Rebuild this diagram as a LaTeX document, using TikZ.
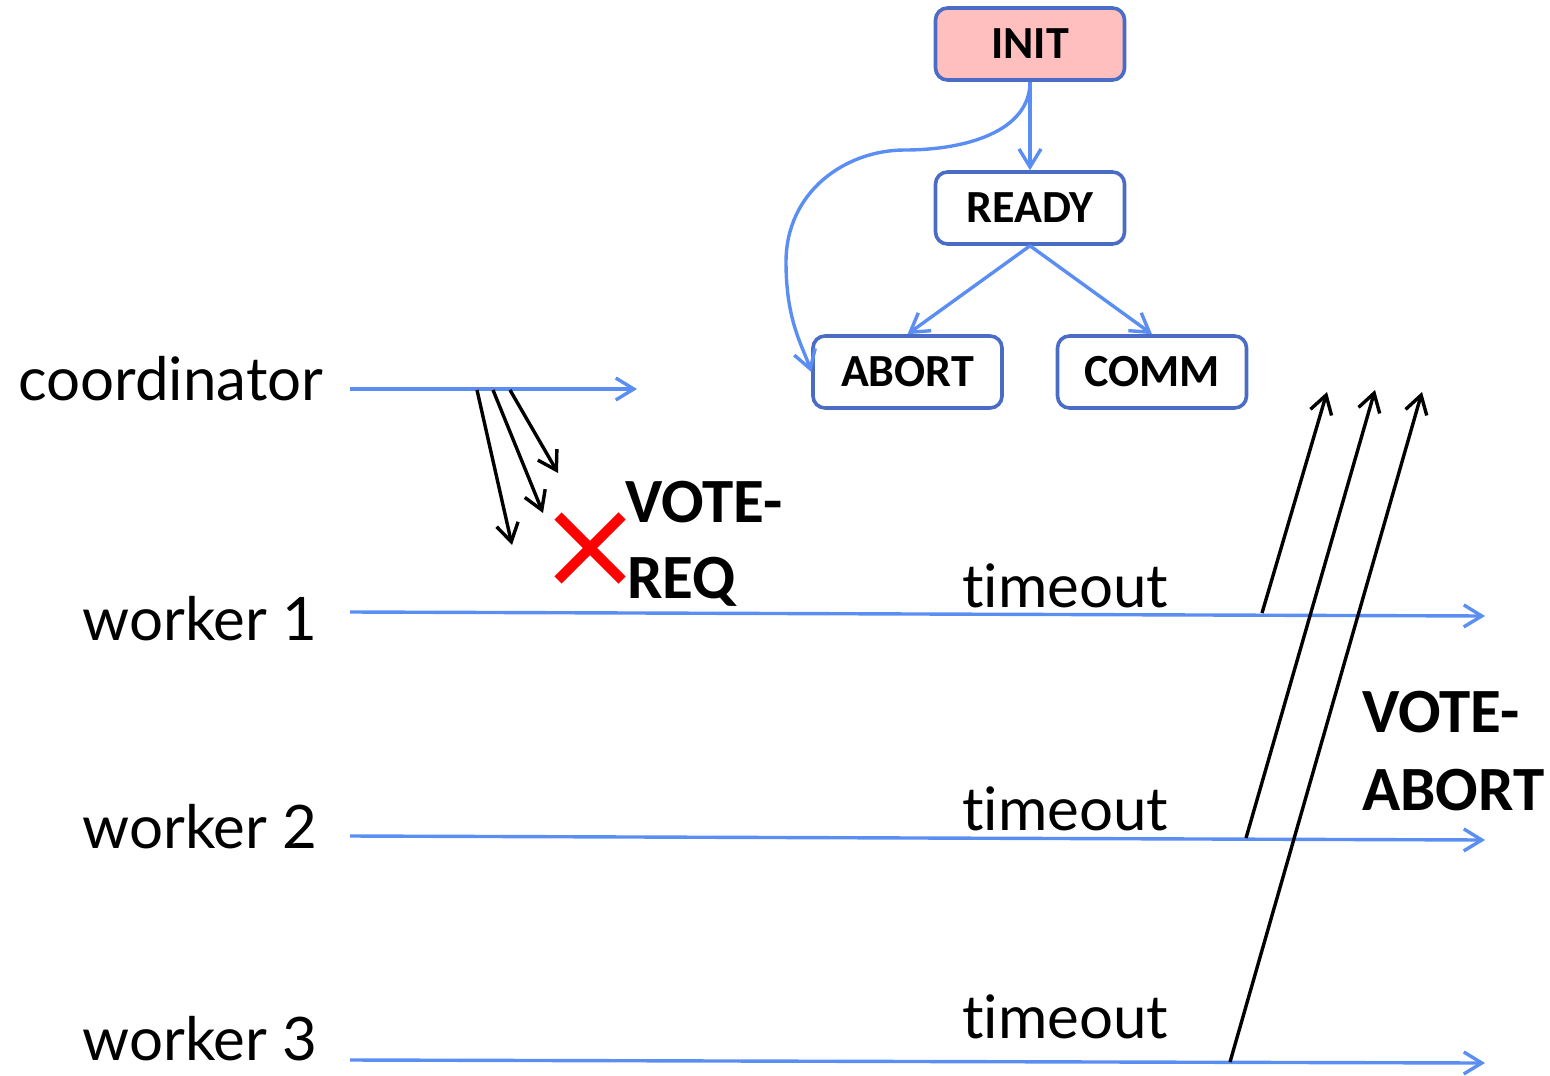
\documentclass[tikz,border=0pt]{standalone}
\usepackage{fontspec}
\setmainfont{Lato}[Ligatures=NoCommon]
\newfontfamily\calfont{Carlito}
\usetikzlibrary{arrows.meta}
\definecolor{lineblue}{HTML}{5B8EF2}
\definecolor{boxblue}{HTML}{4A6CC4}
\definecolor{initfill}{HTML}{FFBFBF}
\begin{document}
\begin{tikzpicture}[x=0.5pt,y=-0.5pt,
  state/.style={draw=boxblue, line width=1.8pt, rounded corners=6pt, minimum width=94.5pt, minimum height=36pt, inner sep=0pt, font=\calfont\bfseries\fontsize{23}{23}\selectfont, fill=white},
  tl/.style={draw=lineblue, line width=1.7pt, -{Straight Barb[length=9pt,width=11pt,line width=1.7pt]}},
  msg/.style={draw=black, line width=1.7pt, -{Straight Barb[length=9pt,width=11pt,line width=1.7pt]}},
  lab/.style={anchor=base west, inner sep=0pt, font=\fontsize{30}{30}\selectfont},
  big/.style={anchor=base west, inner sep=0pt, font=\calfont\bfseries\fontsize{31.5}{38}\selectfont},
]
\useasboundingbox (0,0) rectangle (1550,1075);

% state machine
\node[state, fill=initfill] (init) at (1030,44) {INIT};
\node[state] (ready) at (1030,208) {READY};
\node[state] (abort) at (907.5,372) {ABORT};
\node[state] (comm) at (1152,372) {COMM};
\draw[tl] (init.south) -- (ready.north);
\draw[tl] (ready.south) -- (abort.north);
\draw[tl] (ready.south) -- (comm.north);
\draw[tl] (init.south) .. controls +(0,50) and +(60,0) .. (905,150)
  .. controls +(-60,0) and +(0,-70) .. (786,262)
  .. controls +(0,60) and +(-8,-25) .. (abort.west);

% labels
\node[lab] (lc) at (18,400) {coordinator};
\node[lab] (l1) at (82,640) {worker 1};
\node[lab] (l2) at (82,848) {worker 2};
\node[lab] (l3) at (82,1060) {worker 3};

% timelines
\coordinate (c0) at (350,389);
\coordinate (c1) at (637,389);
\coordinate (a0) at (350,612);
\coordinate (a1) at (1485,616);
\coordinate (b0) at (350,836);
\coordinate (b1) at (1485,840);
\coordinate (d0) at (350,1060);
\coordinate (d1) at (1485,1063);
\draw[tl] (c0) -- (c1);
\draw[tl] (a0) -- (a1);
\draw[tl] (b0) -- (b1);
\draw[tl] (d0) -- (d1);

\node[lab] (t1) at (962,607) {timeout};
\node[lab] (t2) at (962,830) {timeout};
\node[lab] (t3) at (962,1038) {timeout};

% vote requests
\coordinate (r1s) at (477,390);
\coordinate (r1e) at (512,545);
\coordinate (r2s) at (493,390);
\coordinate (r2e) at (543,513);
\coordinate (r3s) at (510,390);
\coordinate (r3e) at (558,473);
\draw[msg] (r1s) -- (r1e);
\draw[msg] (r2s) -- (r2e);
\draw[msg] (r3s) -- (r3e);

% red cross
\coordinate (x1) at (558,516);
\coordinate (x2) at (622,580);
\coordinate (x3) at (558,580);
\coordinate (x4) at (622,516);
\draw[red, line width=5pt] (x1) -- (x2) (x3) -- (x4);

\node[big] (vr1) at (625,522) {VOTE-};
\node[big] (vr2) at (627,598) {REQ};

% vote aborts
\coordinate (v1s) at (1262,613);
\coordinate (v1e) at (1327,392);
\coordinate (v2s) at (1246,838);
\coordinate (v2e) at (1375,390);
\coordinate (v3s) at (1230,1062);
\coordinate (v3e) at (1422,392);
\draw[msg] (v1s) -- (v1e);
\draw[msg] (v2s) -- (v2e);
\draw[msg] (v3s) -- (v3e);

\node[big] (va1) at (1362,732) {VOTE-};
\node[big] (va2) at (1362,810) {ABORT};
\end{tikzpicture}
\end{document}
